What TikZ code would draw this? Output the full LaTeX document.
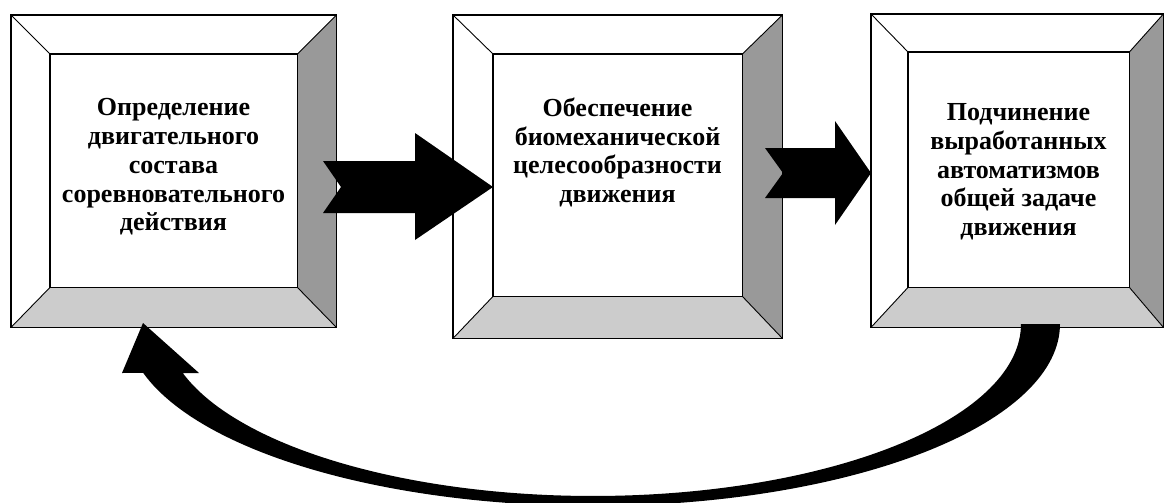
\documentclass[tikz,border=0pt]{standalone}
\usepackage{fontspec}
\setmainfont{Liberation Serif}
\begin{document}
\begin{tikzpicture}[x=1pt,y=-1pt,
  outerbox/.style={fill=white,inner sep=0pt,anchor=north west},
  innerbox/.style={fill=white,inner sep=0pt,anchor=north west},
  frame/.style={line width=1.3pt,black},
  diag/.style={line width=0.9pt,black},
  bevR/.style={fill=black!40},
  bevB/.style={fill=black!20},
  label/.style={align=center,inner sep=0pt,anchor=north,font=\fontsize{26}{28.7}\selectfont\bfseries},
  blockarrow/.style={fill=black}]
\useasboundingbox (0,0) rectangle (1165,503);
\newcommand\mybevel[1]{%
  \fill[bevR] (#1o.north east) -- (#1.north east) -- (#1.south east) -- (#1o.south east) -- cycle;
  \fill[bevB] (#1o.south west) -- (#1.south west) -- (#1.south east) -- (#1o.south east) -- cycle;
  \draw[diag] (#1o.north west) -- (#1.north west) (#1o.north east) -- (#1.north east)
              (#1o.south west) -- (#1.south west) (#1o.south east) -- (#1.south east);
  \draw[frame] (#1o.north west) rectangle (#1o.south east);
  \draw[frame] (#1.north west) rectangle (#1.south east);}
% box 1
\node[outerbox,minimum width=325pt,minimum height=312pt] (b1o) at (11,15) {};
\node[innerbox,minimum width=247pt,minimum height=233pt] (b1) at (50,54) {};
\mybevel{b1}
% box 2
\node[outerbox,minimum width=329pt,minimum height=323pt] (b2o) at (453,15) {};
\node[innerbox,minimum width=249pt,minimum height=242pt] (b2) at (493,54) {};
\mybevel{b2}
% box 3
\node[outerbox,minimum width=292pt,minimum height=313pt] (b3o) at (871,14) {};
\node[innerbox,minimum width=221pt,minimum height=235pt] (b3) at (908,52) {};
\mybevel{b3}
% texts
\node[label] (t1) at (173.5,98.5) {Определение\\двигательного\\состава\\соревновательного\\действия};
\node[label] (t2) at (617.5,97.5) {Обеспечение\\биомеханической\\целесообразности\\движения};
\node[label] (t3) at (1018.5,103.5) {Подчинение\\выработанных\\автоматизмов\\общей задаче\\движения};
% block arrows
\fill[blockarrow] (323,161) -- (415,161) -- (415,133) -- (b2.west |- 0,187) -- (415,240) -- (415,213) -- (323,213) -- (341,187) -- cycle;
\fill[blockarrow] (765,148) -- (835,148) -- (835,121) -- (b3o.west |- 0,173) -- (835,225) -- (835,198) -- (765,198) -- (783,173) -- cycle;
% curved return arrow
\fill[blockarrow] plot[domain=0:164.4,samples=120,variable=\t] ({593+467*cos(\t)},{324+182*sin(\t)})
  -- (122,373) -- (143,323) -- (199,373) -- (183,373)
  -- plot[domain=163.4:0,samples=120,variable=\t] ({593+428*cos(\t)},{324+172*sin(\t)}) -- cycle;
\end{tikzpicture}
\end{document}
